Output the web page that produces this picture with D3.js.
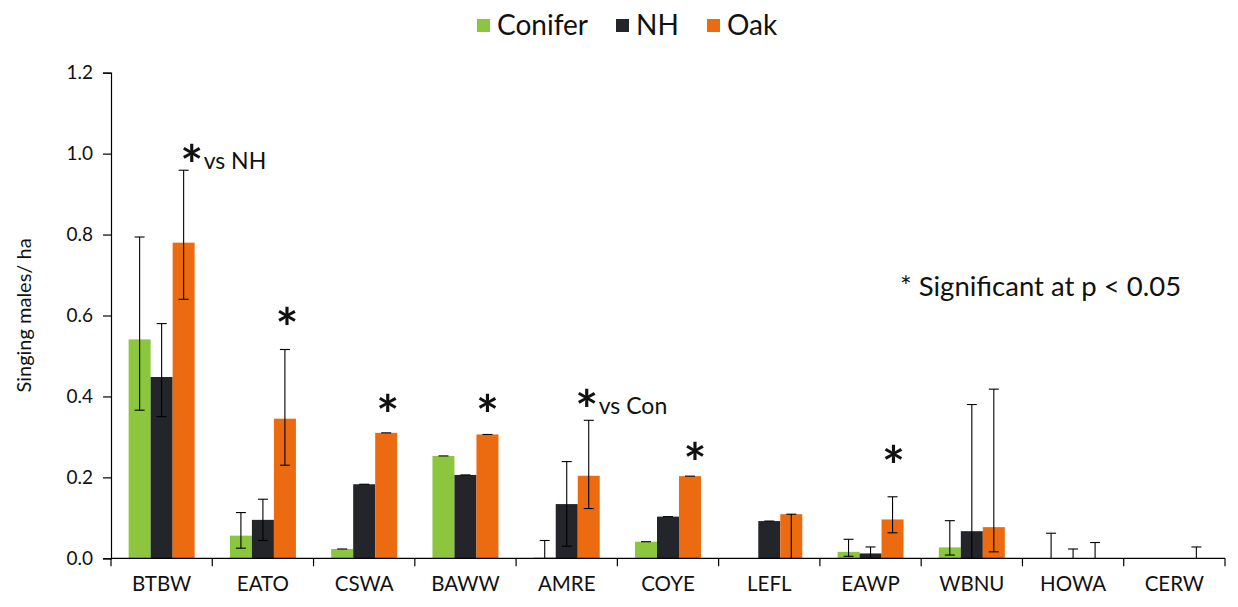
<!DOCTYPE html>
<html>
<head>
<meta charset="utf-8">
<script src="https://cdn.jsdelivr.net/npm/d3@7"></script>
<style>
  html, body { margin: 0; padding: 0; background: #fff; }
  svg { display: block; font-family: Lato, "Open Sans", sans-serif; }
</style>
</head>
<body>
<svg id="chart" width="1238" height="607"></svg>
<script>
// ---- data ----
const categories = ["BTBW","EATO","CSWA","BAWW","AMRE","COYE","LEFL","EAWP","WBNU","HOWA","CERW"];
const seriesNames = ["Conifer","NH","Oak"];
const coniferMean = [0.541, 0.056, 0.023, 0.253, 0.002, 0.041, 0.000, 0.016, 0.027, 0.000, 0.000];
const coniferLow  = [0.366, 0.025, 0.023, 0.253, 0.000, 0.041, 0.000, 0.005, 0.008, 0.000, 0.000];
const coniferHigh = [0.794, 0.113, 0.023, 0.253, 0.044, 0.041, 0.000, 0.047, 0.093, 0.062, 0.000];
const nhMean = [0.448, 0.095, 0.183, 0.206, 0.134, 0.103, 0.092, 0.012, 0.067, 0.000, 0.000];
const nhLow  = [0.350, 0.044, 0.183, 0.206, 0.030, 0.103, 0.092, 0.000, 0.000, 0.000, 0.000];
const nhHigh = [0.580, 0.146, 0.183, 0.206, 0.239, 0.103, 0.092, 0.028, 0.380, 0.023, 0.000];
const oakMean = [0.780, 0.345, 0.310, 0.306, 0.204, 0.203, 0.109, 0.096, 0.077, 0.000, 0.000];
const oakLow  = [0.640, 0.230, 0.310, 0.306, 0.123, 0.203, 0.000, 0.063, 0.016, 0.000, 0.000];
const oakHigh = [0.959, 0.516, 0.310, 0.306, 0.341, 0.203, 0.109, 0.152, 0.418, 0.039, 0.028];
const yTicks = [0.0, 0.2, 0.4, 0.6, 0.8, 1.0, 1.2];
// significance marks (category, star level in axis units, suffix text)
const sigCategories = ["BTBW","EATO","CSWA","BAWW","AMRE","COYE","EAWP"];
const sigLevels     = [1.008, 0.606, 0.389, 0.389, 0.403, 0.272, 0.265];
const sigSuffix     = ["vs NH","","","","vs Con","",""];
const sigNudge      = [8, 2, 1.5, 0, -2, 5, 1];
const yAxisTitle = "Singing males/ ha";
const noteText = "* Significant at p < 0.05";

const colors = {Conifer: "#8cc63f", NH: "#23252b", Oak: "#ec6a10"};

const seriesData = [
  {name: "Conifer", mean: coniferMean, low: coniferLow, high: coniferHigh},
  {name: "NH", mean: nhMean, low: nhLow, high: nhHigh},
  {name: "Oak", mean: oakMean, low: oakLow, high: oakHigh}
];

// ---- layout ----
const svg = d3.select("#chart");
const plotLeft = 111, plotRight = 1225, plotTop = 72.7, plotBottom = 558.3;

const x0 = d3.scaleBand().domain(categories).range([plotLeft, plotRight]).padding(0);
const groupW = 66;
const off = (x0.bandwidth() - groupW) / 2;
const x1 = d3.scaleBand().domain(seriesNames).range([off, off + groupW]).padding(0);
const y = d3.scaleLinear().domain([0, 1.2]).range([plotBottom, plotTop]);

// bars
const g = svg.append("g");
seriesData.forEach(s => {
  g.selectAll(null)
    .data(categories.map((c, i) => ({c, v: s.mean[i]})))
    .enter().append("rect")
    .attr("x", d => x0(d.c) + x1(s.name))
    .attr("width", x1.bandwidth())
    .attr("y", d => y(d.v))
    .attr("height", d => y(0) - y(d.v))
    .attr("fill", colors[s.name]);
});

// error bars
seriesData.forEach(s => {
  const eb = categories.map((c, i) => ({c, v: s.mean[i], lo: s.low[i], hi: s.high[i]}))
    .filter(d => d.hi > 0);
  const cx = d => x0(d.c) + x1(s.name) + x1.bandwidth() / 2;
  const eg = svg.append("g").attr("stroke", "#000").attr("stroke-width", 1.1);
  eg.selectAll(null).data(eb.filter(d => d.hi > d.lo)).enter().append("line")
    .attr("x1", cx).attr("x2", cx)
    .attr("y1", d => y(d.lo)).attr("y2", d => y(d.hi));
  eg.selectAll(null).data(eb).enter().append("line")
    .attr("x1", d => cx(d) - 5).attr("x2", d => cx(d) + 5)
    .attr("y1", d => y(d.hi)).attr("y2", d => y(d.hi));
  eg.selectAll(null).data(eb.filter(d => d.lo < d.v && d.lo > 0)).enter().append("line")
    .attr("x1", d => cx(d) - 5).attr("x2", d => cx(d) + 5)
    .attr("y1", d => y(d.lo)).attr("y2", d => y(d.lo));
});

// y axis
const yAxis = d3.axisLeft(y).tickValues(yTicks).tickFormat(d3.format(".1f")).tickSizeOuter(0).tickSize(8).tickPadding(10);
const yg = svg.append("g").attr("transform", `translate(${plotLeft},0)`).call(yAxis);
yg.select(".domain").attr("stroke", "#000").attr("stroke-width", 1.2);
yg.selectAll(".tick line").attr("stroke", "#000").attr("stroke-width", 1.2);
yg.selectAll(".tick text").attr("font-size", 19).attr("fill", "#111").attr("font-family", "Lato, sans-serif");

// x axis
const xg = svg.append("g").attr("transform", `translate(0,${plotBottom})`);
xg.append("line").attr("x1", plotLeft).attr("x2", plotRight).attr("y1", 0).attr("y2", 0)
  .attr("stroke", "#000").attr("stroke-width", 1.2);
const bounds = categories.map(c => x0(c)).concat([x0.range()[1]]);
xg.selectAll(null).data(bounds).enter().append("line")
  .attr("x1", d => d).attr("x2", d => d).attr("y1", 0).attr("y2", 8)
  .attr("stroke", "#000").attr("stroke-width", 1.2);
xg.selectAll(null).data(categories).enter().append("text")
  .attr("x", d => x0(d) + x0.bandwidth() / 2)
  .attr("y", 33)
  .attr("text-anchor", "middle")
  .attr("font-size", 20.5)
  .attr("fill", "#111")
  .text(d => d);

// y title
svg.append("text")
  .attr("transform", `translate(31,${(plotTop + plotBottom) / 2}) rotate(-90)`)
  .attr("text-anchor", "middle")
  .attr("font-size", 20)
  .attr("fill", "#111")
  .text(yAxisTitle);

// significance marks
const starSize = 54;
sigCategories.forEach((c, i) => {
  const cx = x0(c) + x1("Oak") + x1.bandwidth() / 2 + sigNudge[i];
  const cy = y(sigLevels[i]);
  svg.append("text")
    .attr("x", cx).attr("y", cy + starSize * 0.62)
    .attr("text-anchor", "middle")
    .attr("font-size", starSize)
    .attr("font-weight", "bold")
    .attr("fill", "#111")
    .text("*");
  if (sigSuffix[i]) {
    svg.append("text")
      .attr("x", cx + 12).attr("y", cy + 19)
      .attr("font-size", 23)
      .attr("fill", "#111")
      .text(sigSuffix[i]);
  }
});

// note
svg.append("text")
  .attr("x", 900).attr("y", 296)
  .attr("font-size", 27.5)
  .attr("fill", "#111")
  .text(noteText);

// legend
const legendX = [477, 616, 707];
const lg = svg.append("g");
seriesNames.forEach((n, i) => {
  lg.append("rect").attr("x", legendX[i]).attr("y", 19).attr("width", 13).attr("height", 13)
    .attr("fill", colors[n]);
  lg.append("text").attr("x", legendX[i] + 20).attr("y", 35)
    .attr("font-size", 28).attr("fill", "#111").text(n);
});
</script>
</body>
</html>
